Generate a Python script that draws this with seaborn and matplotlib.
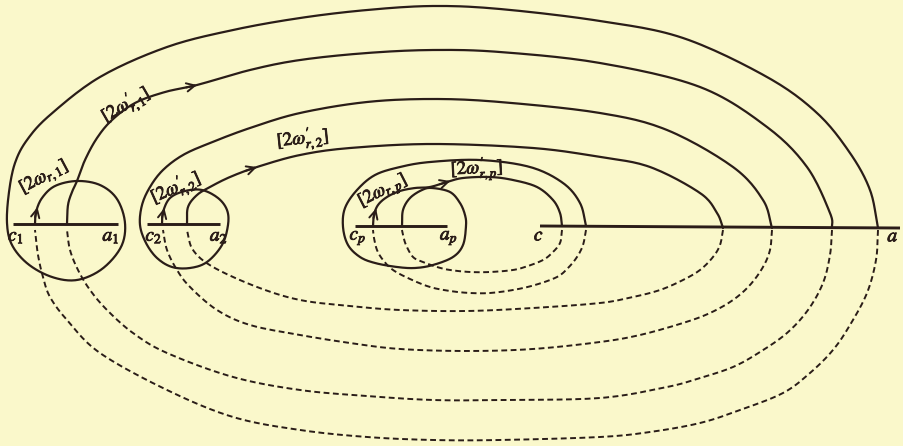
import numpy as np
import pandas as pd
import matplotlib
matplotlib.use("Agg")
import matplotlib.pyplot as plt
import matplotlib.patheffects as pe
import seaborn as sns

# control points, in pixels (y grows downward)
# group 1: small loop round c1 a1 running into the outermost contour
loop_1_x = [35, 36, 42, 55, 77, 100, 117, 125, 121, 102, 77, 52, 28, 12, 7, 9, 15, 27, 50, 100, 167, 233, 300, 367, 433, 500, 600, 683, 767, 817, 850, 870, 878]
loop_1_y = [224, 212, 198, 186, 181, 185, 199, 223, 247, 269, 280, 277, 264, 245, 223, 192, 163, 140, 115, 77, 47, 30, 18, 10, 6, 9, 21, 38, 77, 113, 153, 190, 228]
loop_1_back_x = [878, 876, 867, 850, 833, 810, 783, 740, 700, 650, 600, 500, 433, 367, 300, 233, 167, 100, 67, 50, 43, 38, 35]
loop_1_back_y = [230, 260, 293, 325, 350, 373, 393, 410, 423, 432, 437, 440, 440, 437, 430, 417, 390, 353, 320, 297, 277, 255, 230]

inner_1_x = [67, 68, 72, 77, 85, 97, 112, 135, 165, 197, 250, 300, 367, 433, 500, 600, 700, 767, 807, 830, 832]
inner_1_y = [224, 205, 192, 181, 160, 138, 120, 103, 92, 85, 70, 60, 53, 50, 52, 63, 87, 127, 167, 213, 228]
inner_1_back_x = [832, 830, 823, 808, 787, 760, 733, 700, 667, 600, 500, 433, 367, 300, 233, 167, 133, 107, 90, 78, 70, 67]
inner_1_back_y = [230, 255, 283, 310, 333, 352, 367, 378, 387, 398, 400, 400, 396, 390, 377, 353, 333, 310, 290, 270, 250, 230]

# group 2
loop_2_x = [162, 163, 170, 185, 202, 218, 227, 228, 222, 207, 190, 172, 157, 146, 140, 142, 150, 163, 183, 210, 250, 300, 367, 433, 500, 600, 667, 733, 763, 772]
loop_2_y = [224, 212, 198, 191, 190, 198, 210, 225, 245, 262, 268, 267, 258, 243, 225, 205, 187, 170, 155, 143, 128, 113, 102, 99, 102, 113, 130, 167, 200, 228]
loop_2_back_x = [772, 770, 763, 750, 733, 710, 683, 640, 600, 533, 467, 400, 350, 300, 250, 217, 190, 177, 167, 163]
loop_2_back_y = [230, 250, 267, 285, 300, 313, 323, 335, 342, 349, 351, 349, 343, 335, 325, 310, 287, 270, 250, 230]

inner_2_x = [187, 188, 197, 210, 230, 257, 300, 350, 433, 533, 600, 650, 700, 717, 723]
inner_2_y = [224, 207, 195, 187, 177, 167, 155, 148, 144, 148, 157, 167, 193, 213, 228]
inner_2_back_x = [723, 720, 713, 700, 683, 660, 633, 600, 533, 467, 400, 350, 300, 257, 213, 193, 187]
inner_2_back_y = [230, 245, 257, 270, 280, 290, 297, 303, 308, 311, 310, 306, 300, 287, 267, 250, 230]

# group p
arc_p_x = [373, 374, 378, 387, 400, 415, 430, 447, 463, 490, 513, 537, 553, 560, 562]
arc_p_y = [226, 215, 205, 197, 191, 188, 187, 182, 178, 177, 180, 187, 200, 213, 226]
arc_p_back_x = [562, 560, 552, 543, 528, 513, 490, 470, 450, 437, 423, 413, 406, 403, 402]
arc_p_back_y = [230, 243, 253, 260, 266, 270, 272, 272, 270, 267, 262, 257, 245, 235, 230]

loop_p_x = [402, 403, 410, 422, 432, 450, 460, 465, 466, 463, 453, 433, 415, 397, 375, 360, 348, 343, 345, 357, 375, 400, 430, 480, 530, 563, 580, 586]
loop_p_y = [226, 210, 198, 190, 188, 192, 203, 215, 226, 245, 257, 265, 268, 267, 263, 257, 245, 227, 208, 190, 175, 167, 162, 160, 167, 183, 203, 226]
loop_p_back_x = [586, 583, 577, 568, 557, 535, 513, 490, 470, 450, 430, 410, 393, 383, 377, 374, 373]
loop_p_back_y = [230, 245, 257, 268, 277, 285, 290, 293, 293, 291, 287, 279, 270, 260, 250, 238, 230]

# branch cuts
cut_x0 = [13, 147, 355, 540]
cut_x1 = [118, 220, 447, 900]
cut_y0 = [224, 224, 226, 226]
cut_y1 = [224, 224, 226, 228]

# end-point letters
point_labels = ["$c_1$", "$a_1$", "$c_2$", "$a_2$", "$c_p$", "$a_p$", "$c$", "$a$"]
point_x = [16, 111, 154, 219, 358, 449, 539, 893]
point_y = [237, 237, 237, 237, 238, 238, 236, 237]

# period labels along the paths
period_labels = [r"$[2\omega_{r,1}]$", r"$[2\omega_{r,1}^{\prime}]$", r"$[2\omega_{r,2}^{\prime}]$",
                 r"$[2\omega_{r,2}^{\prime}]$", r"$[2\omega_{r,p}]$", r"$[2\omega_{r,p}^{\prime}]$"]
period_x = [44, 126, 176, 303, 383, 477]
period_y = [177, 105, 188, 139, 191, 169]
period_rot = [28, 30, 24, 6, 27, 3]

# arrow heads: which path and roughly where
arrow_path = ["loop_1", "inner_1", "loop_2", "inner_2", "arc_p", "arc_p"]
arrow_x = [37, 197, 164, 258, 376, 450]
arrow_y = [207, 86, 208, 167, 208, 181]

paths = {
    "loop_1": (loop_1_x, loop_1_y, "solid"),
    "loop_1_back": (loop_1_back_x, loop_1_back_y, "dashed"),
    "inner_1": (inner_1_x, inner_1_y, "solid"),
    "inner_1_back": (inner_1_back_x, inner_1_back_y, "dashed"),
    "loop_2": (loop_2_x, loop_2_y, "solid"),
    "loop_2_back": (loop_2_back_x, loop_2_back_y, "dashed"),
    "inner_2": (inner_2_x, inner_2_y, "solid"),
    "inner_2_back": (inner_2_back_x, inner_2_back_y, "dashed"),
    "arc_p": (arc_p_x, arc_p_y, "solid"),
    "arc_p_back": (arc_p_back_x, arc_p_back_y, "dashed"),
    "loop_p": (loop_p_x, loop_p_y, "solid"),
    "loop_p_back": (loop_p_back_x, loop_p_back_y, "dashed"),
}

INK = "#2a1d18"
PAPER = "#faf8cb"


def smooth(xs, ys, n=14):
    # catmull-rom through the read points, only so the pen stroke is round
    p = np.column_stack([xs, ys]).astype(float)
    p = np.vstack([2 * p[0] - p[1], p, 2 * p[-1] - p[-2]])
    t = np.linspace(0, 1, n, endpoint=False)[:, None]
    out = []
    for i in range(1, len(p) - 2):
        p0, p1, p2, p3 = p[i - 1], p[i], p[i + 1], p[i + 2]
        seg = 0.5 * (2 * p1 + (-p0 + p2) * t + (2 * p0 - 5 * p1 + 4 * p2 - p3) * t ** 2
                     + (-p0 + 3 * p1 - 3 * p2 + p3) * t ** 3)
        out.append(seg)
    out.append(p[-2][None, :])
    return np.vstack(out)


sns.set_theme(style="white", rc={"axes.facecolor": PAPER, "figure.facecolor": PAPER})
plt.rcParams["font.family"] = ["Liberation Serif", "DejaVu Serif"]
plt.rcParams["mathtext.fontset"] = "stix"

fig = plt.figure(figsize=(9.04, 4.46), dpi=100)
ax = fig.add_axes([0, 0, 1, 1])

smoothed = {}
for name, (xs, ys, kind) in paths.items():
    pts = smooth(xs, ys)
    smoothed[name] = pts
    df = pd.DataFrame({"x": pts[:, 0], "y": pts[:, 1]})
    if kind == "solid":
        sns.lineplot(data=df, x="x", y="y", sort=False, estimator=None, ax=ax,
                     color=INK, lw=1.6, solid_capstyle="round")
    else:
        sns.lineplot(data=df, x="x", y="y", sort=False, estimator=None, ax=ax,
                     color=INK, lw=1.4, linestyle=(0, (3, 1.8)))

for x0, x1, y0, y1 in zip(cut_x0, cut_x1, cut_y0, cut_y1):
    ax.plot([x0, x1], [y0, y1], color=INK, lw=2.1, solid_capstyle="butt")

for name, ax_, ay_ in zip(arrow_path, arrow_x, arrow_y):
    pts = smoothed[name]
    i = np.argmin((pts[:, 0] - ax_) ** 2 + (pts[:, 1] - ay_) ** 2)
    j = i
    while j > 0 and np.hypot(*(pts[i] - pts[j])) < 10:
        j -= 1
    ax.annotate("", xy=tuple(pts[i]), xytext=tuple(pts[j]),
                arrowprops=dict(arrowstyle="->", color=INK, lw=1.4,
                                shrinkA=0, shrinkB=0, mutation_scale=15))

# printed type is heavier than stix at this size
ink_stroke = [pe.withStroke(linewidth=0.6, foreground=INK)]

for lab, x, y in zip(point_labels, point_x, point_y):
    ax.text(x, y, lab, fontsize=14, color=INK, ha="center", va="center",
            path_effects=ink_stroke)

for lab, x, y, r in zip(period_labels, period_x, period_y, period_rot):
    ax.text(x, y, lab, fontsize=13.5, color=INK, ha="center", va="center",
            rotation=r, rotation_mode="anchor", path_effects=ink_stroke)

ax.set_xlim(0, 904)
ax.set_ylim(446, 0)
ax.set_axis_off()

fig.savefig("out.png", dpi=100, facecolor=PAPER)
